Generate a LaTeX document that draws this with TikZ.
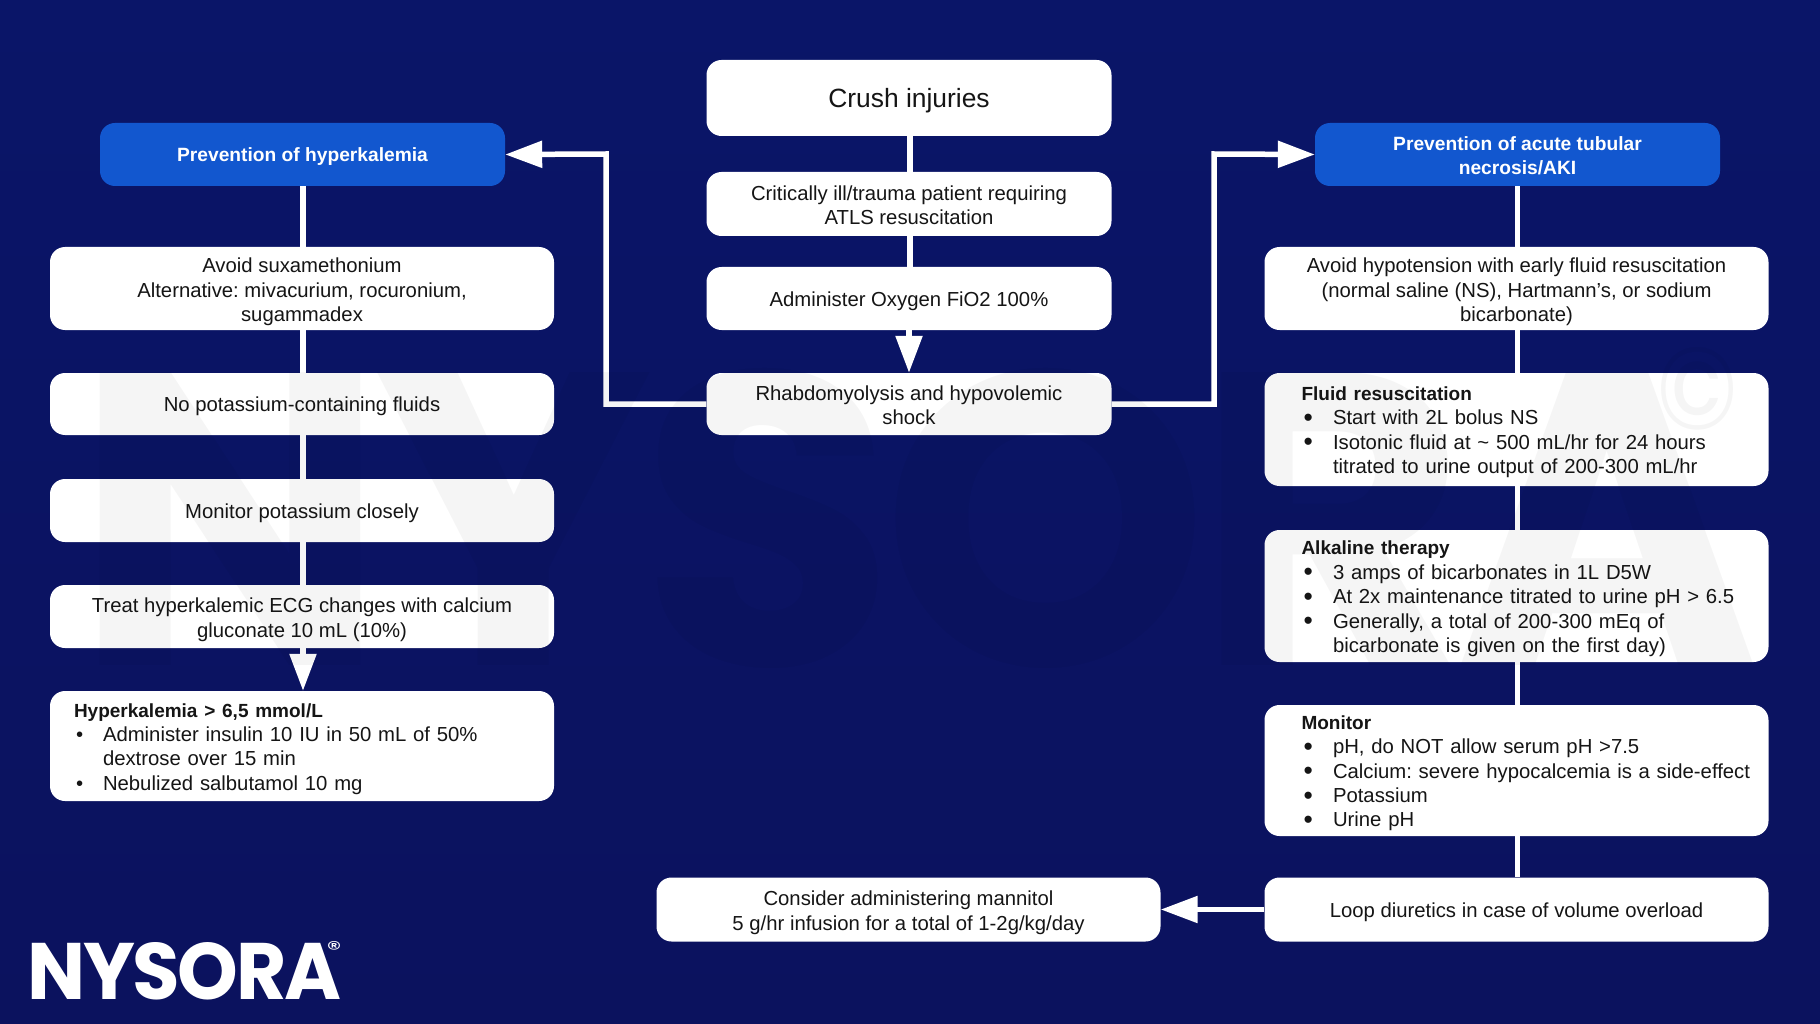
\documentclass[tikz,border=0pt]{standalone}
\usepackage{fontspec}
\usepackage{graphicx}
\setmainfont{Liberation Sans}
\newfontfamily\logofont[LetterSpace=-3]{Poppins}
\newfontfamily\regfont{Poppins}
\usetikzlibrary{arrows.meta}
\definecolor{navy}{HTML}{0A1568}
\definecolor{navydark}{HTML}{0B125E}
\definecolor{headblue}{HTML}{1257CF}
\definecolor{ink}{HTML}{151515}
\tikzset{
  x=1pt,y=-1pt,
  card/.style={fill=white,rounded corners=15pt,inner sep=0pt,text=ink,align=center,
    font=\fontsize{20.3}{24.4}\selectfont\frenchspacing,
    execute at begin node={\rule{0pt}{1em}},
    execute at end node={\rule[-.25em]{0pt}{0pt}}},
  head/.style={card,fill=headblue,text=white,font=\fontsize{19.2}{24.4}\selectfont\bfseries\frenchspacing},
  wl/.style={minimum width=504pt},
  wc/.style={minimum width=405pt},
  listcard/.style={card,align=left,text width=#1},
  flow/.style={draw=white,line width=5.5pt},
  flowtip/.style={flow,-{Triangle[width=26pt,length=37pt,fill=white]}},
  wmark/.style={opacity=0.04,text=black,inner sep=0pt},
}
% list lines: one unbroken line each, with a hanging bullet column
\newcommand{\bigb}[1]{\leavevmode\hbox{\hbox to 31.5pt{\hskip 2pt\raisebox{-1.5pt}{\scalebox{1.3}{•}}\hfil}#1}}
\newcommand{\smallb}[1]{\leavevmode\hbox{\hbox to 29pt{\hskip 2pt\raisebox{-.5pt}{•}\hfil}#1}}
\newcommand{\cont}[2]{\leavevmode\hbox{\hbox to #1{\hfil}#2}}
\newcommand{\lead}[1]{{\fontsize{19}{24.4}\selectfont\bfseries #1}}
% taller first row, to set a block of centred lines at the reference's height
\newcommand{\hi}{\rule{0pt}{1.1em}}
\begin{document}
\begin{tikzpicture}
\useasboundingbox (0,0) rectangle (1820,1024);
\shade[top color=navy,bottom color=navydark] (0,0) rectangle (1820,1024);

% centre column
\node[card,wc,minimum height=76pt,font=\fontsize{26.4}{30}\selectfont\frenchspacing] (crush) at (909,98) {Crush injuries};
\node[card,wc,minimum height=64pt] (ill) at (909,204) {\hi Critically ill/trauma patient requiring\\ATLS resuscitation};
\node[card,wc,minimum height=63pt] (oxy) at (909,298.5) {Administer Oxygen FiO2 100\%};
\node[card,wc,minimum height=62pt] (rhabdo) at (909,404) {\hi Rhabdomyolysis and hypovolemic\\shock};

% left column
\node[head,wc,minimum height=63pt] (lhead) at (302.5,154.5) {Prevention of hyperkalemia};
\node[card,wl,minimum height=83pt] (l1) at (302,288.5) {\hi Avoid suxamethonium\\Alternative: mivacurium, rocuronium,\\sugammadex};
\node[card,wl,minimum height=62pt] (l2) at (302,404) {No potassium-containing fluids};
\node[card,wl,minimum height=63pt] (l3) at (302,510.5) {Monitor potassium closely};
\node[card,wl,minimum height=63pt] (l4) at (302,616.5) {\hi Treat hyperkalemic ECG changes with calcium\\gluconate 10 mL (10\%)};
\node[listcard=456pt,inner xsep=24pt,minimum height=110pt] (l5) at (302,746) {\lead{Hyperkalemia > 6,5 mmol/L}\\
  \smallb{Administer insulin 10 IU in 50 mL of 50\%}\\
  \cont{29pt}{dextrose over 15 min}\\
  \smallb{Nebulized salbutamol 10 mg}};

% right column
\node[head,wc,minimum height=63pt] (rhead) at (1517.5,154.5) {\hi Prevention of acute tubular\\necrosis/AKI};
\node[card,wl,minimum height=83pt] (r1) at (1516.5,288.5) {\hi Avoid hypotension with early fluid resuscitation\\(normal saline (NS), Hartmann's, or sodium\\bicarbonate)};
\node[listcard=430pt,inner xsep=37pt,minimum height=113pt] (r2) at (1516.5,429.5) {\lead{Fluid resuscitation}\\
  \bigb{Start with 2L bolus NS}\\
  \bigb{Isotonic fluid at \char`~\ 500 mL/hr for 24 hours}\\
  \cont{31.5pt}{titrated to urine output of 200-300 mL/hr}};
\node[listcard=430pt,inner xsep=37pt,minimum height=132pt] (r3) at (1516.5,596) {\lead{Alkaline therapy}\\
  \bigb{3 amps of bicarbonates in 1L D5W}\\
  \bigb{At 2x maintenance titrated to urine pH > 6.5}\\
  \bigb{Generally, a total of 200-300 mEq of}\\
  \cont{31.5pt}{bicarbonate is given on the first day)}};
\node[listcard=430pt,inner xsep=37pt,minimum height=131pt] (r4) at (1516.5,770.5) {\lead{Monitor}\\
  \bigb{pH, do NOT allow serum pH >7.5}\\
  \bigb{Calcium: severe hypocalcemia is a side-effect}\\
  \bigb{Potassium}\\
  \bigb{Urine pH}};
\node[card,wl,minimum height=64pt] (r5) at (1516.5,909.5) {Loop diuretics in case of volume overload};
\node[card,wl,minimum height=64pt] (mann) at (908.5,909.5) {\hi Consider administering mannitol\\5 g/hr infusion for a total of 1-2g/kg/day};

% connectors: centre
\draw[flow] ([xshift=1pt]crush.south) -- ([xshift=1pt]ill.north);
\draw[flow] ([xshift=1pt]ill.south) -- ([xshift=1pt]oxy.north);
\draw[flowtip] (oxy.south) -- (rhabdo.north);
\draw[flowtip] (rhabdo.west) -| (606,154) -- (lhead.east);
\draw[flowtip] (rhabdo.east) -| (1214,154) -- (rhead.west);
% connectors: left
\draw[flow] ([xshift=.5pt]lhead.south) -- ([xshift=1pt]l1.north);
\draw[flow] ([xshift=1pt]l1.south) -- ([xshift=1pt]l2.north);
\draw[flow] ([xshift=1pt]l2.south) -- ([xshift=1pt]l3.north);
\draw[flow] ([xshift=1pt]l3.south) -- ([xshift=1pt]l4.north);
\draw[flowtip] ([xshift=1pt]l4.south) -- ([xshift=1pt]l5.north);
% connectors: right
\draw[flow] (rhead.south) -- (r1.north -| rhead.south);
\draw[flow] ([xshift=1pt]r1.south) -- ([xshift=1pt]r2.north);
\draw[flow] ([xshift=1pt]r2.south) -- ([xshift=1pt]r3.north);
\draw[flow] ([xshift=1pt]r3.south) -- ([xshift=1pt]r4.north);
\draw[flow] ([xshift=1pt]r4.south) -- ([xshift=1pt]r5.north);
\draw[flowtip] (r5.west) -- (mann.east);

% watermark laid over the cards
\node[wmark,anchor=center] (wm) at (917,518) {\resizebox{1685pt}{296pt}{\logofont\bfseries NYSORA}};
\node[wmark] (wmc) at (1698,389) {\resizebox{82pt}{82pt}{\regfont ©}};

% logo
\node[inner sep=0pt,text=white,anchor=south west] (logo) at (27,1000) {\resizebox{314pt}{57pt}{\logofont\bfseries NYSORA}};
\node[inner sep=0pt,text=white] (reg) at (334,949) {\resizebox{15pt}{15pt}{\regfont ®}};
\end{tikzpicture}
\end{document}
